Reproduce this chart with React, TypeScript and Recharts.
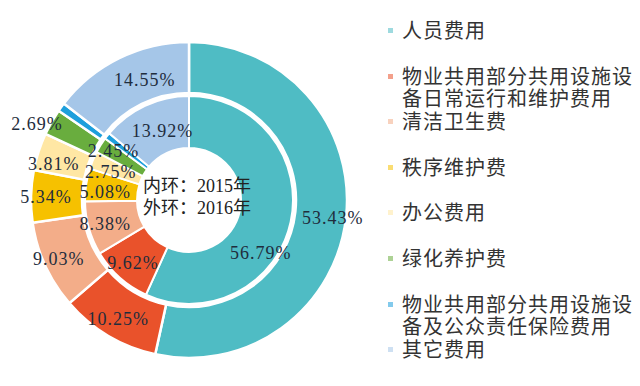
import React from "react";
import { PieChart, Pie, Cell, Legend } from "recharts";

const categories = [
  "人员费用",
  "物业共用部分共用设施设备日常运行和维护费用",
  "清洁卫生费",
  "秩序维护费",
  "办公费用",
  "绿化养护费",
  "物业共用部分共用设施设备及公众责任保险费用",
  "其它费用",
];
const values2015 = [56.79, 9.62, 8.38, 5.08, 2.75, 2.45, 1.01, 13.92];
const values2016 = [53.43, 10.25, 9.03, 5.34, 3.81, 2.69, 0.9, 14.55];
const hideLabel = [false, false, false, false, false, false, true, false];
const centerLines = ["内环：2015年", "外环：2016年"];

const COLORS = [
  "#4fbcc4",
  "#e9522b",
  "#f3ad89",
  "#f6c100",
  "#ffe7a4",
  "#69ad3e",
  "#1d9fdc",
  "#a5c6e8",
];

const CX = 184;
const CY = 195;

// label placement tweaks (radius and angle shift per slice)
const innerLabelR = [89, 84, 87, 84, 83, 90, 0, 74];
const innerLabelShift = [24, 0, 0, -3, -3, 1, 0, 4];
const outerLabelR = [145, 138, 143, 143, 140, 170, 0, 128];
const outerLabelShift = [1, 0, 0, 0, -3, -3, 0, 6];

const RAD = Math.PI / 180;

const makeLabel =
  (radii: number[], shifts: number[], vals: number[]) => (props: any) => {
    const { cx, cy, midAngle, index } = props;
    if (hideLabel[index]) return null;
    const a = (midAngle - shifts[index]) * RAD;
    const r = radii[index];
    const x = cx + r * Math.cos(a);
    const y = cy - r * Math.sin(a);
    return (
      <text
        x={x}
        y={y}
        textAnchor="middle"
        dominantBaseline="central"
        fill="#1f2d3d"
        fontSize={18}
        letterSpacing={1}
        fontFamily="'Liberation Serif', serif"
      >
        {vals[index].toFixed(2) + "%"}
      </text>
    );
  };

const renderLegend = () => (
  <div style={{ position: "relative", width: 255, height: 386 }}>
    {categories.map((name, i) => {
      const lines = name.match(/.{1,11}/g) || [name];
      return (
        <div
          key={name}
          style={{
            position: "absolute",
            left: 0,
            top: 19 + i * 45.6,
            fontFamily: "'Noto Sans CJK SC', sans-serif",
            fontSize: 20,
            letterSpacing: 1,
            lineHeight: "22px",
            color: "#333",
            whiteSpace: "nowrap",
          }}
        >
          <span
            style={{
              position: "absolute",
              left: 3,
              top: 9,
              width: 5,
              height: 5,
              background: COLORS[i],
              opacity: 0.55,
            }}
          />
          {lines.map((l) => (
            <div key={l} style={{ paddingLeft: 17 }}>
              {l}
            </div>
          ))}
        </div>
      );
    })}
  </div>
);

const innerData = categories.map((name, i) => ({ name, value: values2015[i] }));
const outerData = categories.map((name, i) => ({ name, value: values2016[i] }));

export default function App() {
  return (
    <div
      style={{
        position: "absolute",
        left: 0,
        top: 0,
        width: 640,
        height: 386,
        background: "#fff",
      }}
    >
      <PieChart width={640} height={386}>
        <Pie
          data={innerData}
          dataKey="value"
          cx={CX}
          cy={CY}
          innerRadius={52}
          outerRadius={104}
          startAngle={90}
          endAngle={-270}
          stroke="#fff"
          strokeWidth={2}
          labelLine={false}
          label={makeLabel(innerLabelR, innerLabelShift, values2015)}
          isAnimationActive={false}
        >
          {innerData.map((d, i) => (
            <Cell key={d.name} fill={COLORS[i]} />
          ))}
        </Pie>
        <Pie
          data={outerData}
          dataKey="value"
          cx={CX}
          cy={CY}
          innerRadius={107}
          outerRadius={158}
          startAngle={90}
          endAngle={-270}
          stroke="#fff"
          strokeWidth={2.5}
          labelLine={false}
          label={makeLabel(outerLabelR, outerLabelShift, values2016)}
          isAnimationActive={false}
        >
          {outerData.map((d, i) => (
            <Cell key={d.name} fill={COLORS[i]} />
          ))}
        </Pie>
        <Legend
          content={renderLegend}
          wrapperStyle={{ position: "absolute", left: 385, top: 0, width: 255 }}
        />
      </PieChart>
      <div
        style={{
          position: "absolute",
          left: CX - 41,
          top: CY - 20,
          fontFamily: "'Liberation Serif', 'Noto Sans CJK SC', serif",
          fontSize: 18,
          lineHeight: "22px",
          color: "#222",
          whiteSpace: "nowrap",
          pointerEvents: "none",
        }}
      >
        {centerLines.map((l) => (
          <div key={l}>{l}</div>
        ))}
      </div>
    </div>
  );
}
